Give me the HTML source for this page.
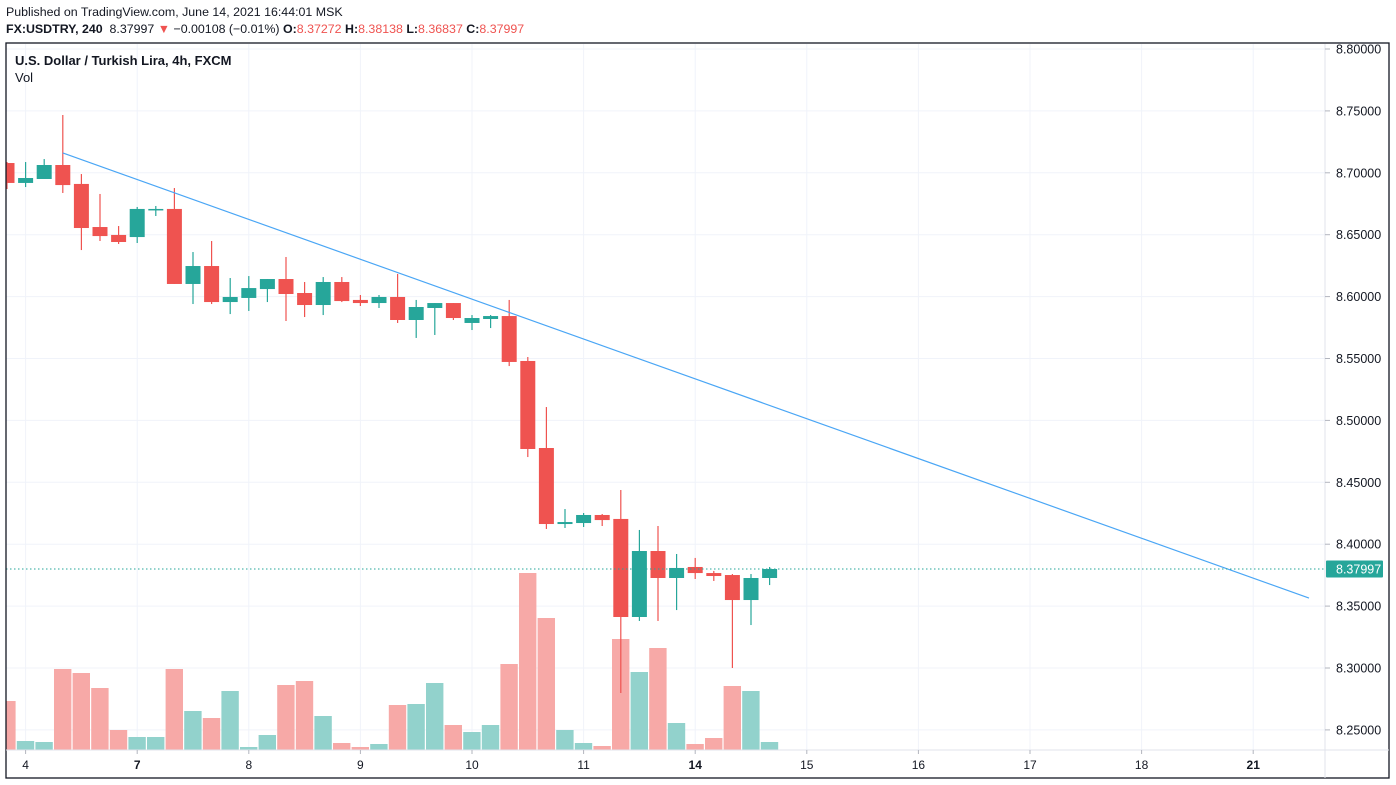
<!DOCTYPE html>
<html><head><meta charset="utf-8"><style>
body{margin:0;background:#fff;width:1396px;height:785px;overflow:hidden;font-family:"Liberation Sans",sans-serif}
#hdr1{position:absolute;left:6px;top:5px;font-size:12.4px;color:#131722}
#hdr2{position:absolute;left:6px;top:22px;font-size:12.4px;color:#131722}
.r{color:#ef5350}
</style></head><body>
<div id="hdr1">Published on TradingView.com, June 14, 2021 16:44:01 MSK</div>
<div id="hdr2"><b>FX:USDTRY, 240</b>&nbsp; 8.37997 <span class="r">▼</span> −0.00108 (−0.01%) <b>O:</b><span class="r">8.37272</span> <b>H:</b><span class="r">8.38138</span> <b>L:</b><span class="r">8.36837</span> <b>C:</b><span class="r">8.37997</span></div>
<svg id="chart" width="1396" height="785" style="position:absolute;left:0;top:0"></svg>
<script>
const opens=[8.7079,8.6918,8.6950,8.7063,8.6910,8.6562,8.6498,8.6481,8.6700,8.6708,8.6102,8.6247,8.5956,8.5989,8.6061,8.6142,8.6029,8.5932,8.6118,8.5973,8.5948,8.5997,8.5811,8.5908,8.5948,8.5787,8.5819,8.5843,8.5480,8.4777,8.4163,8.4171,8.4236,8.4204,8.3412,8.3945,8.3727,8.3816,8.3767,8.3751,8.3549,8.3727];
const highs=[8.7087,8.7087,8.7111,8.7467,8.6990,8.6829,8.6570,8.6724,8.6732,8.6877,8.6360,8.6449,8.6150,8.6166,8.6142,8.6320,8.6118,8.6158,8.6158,8.6013,8.6013,8.6183,8.5973,8.5948,8.5948,8.5851,8.5851,8.5973,8.5512,8.5108,8.4284,8.4252,8.4244,8.4438,8.4115,8.4147,8.3921,8.3889,8.3784,8.3759,8.3759,8.3816];
const lows=[8.6869,8.6885,8.6950,8.6837,8.6376,8.6449,8.6425,8.6433,8.6651,8.6102,8.5940,8.5940,8.5859,8.5884,8.5956,8.5803,8.5835,8.5851,8.5956,8.5924,8.5908,8.5787,8.5666,8.5690,8.5811,8.5730,8.5746,8.5439,8.4704,8.4123,8.4131,8.4139,8.4147,8.2798,8.3380,8.3380,8.3468,8.3719,8.3703,8.3000,8.3347,8.3670];
const closes=[8.6918,8.6958,8.7063,8.6901,8.6554,8.6489,8.6441,8.6708,8.6708,8.6102,8.6247,8.5956,8.5997,8.6069,8.6142,8.6021,8.5932,8.6118,8.5964,8.5948,8.5997,8.5811,8.5916,8.5948,8.5827,8.5827,8.5843,8.5472,8.4769,8.4163,8.4179,8.4236,8.4195,8.3412,8.3945,8.3727,8.3808,8.3767,8.3743,8.3549,8.3727,8.37997];
const volumes=[49,9,8,81,77,62,20,13,13,81,39,32,59,3,15,65,69,34,7,3,6,45,46,67,25,18,25,86,177,132,20,7,4,111,78,102,27,6,12,64,59,8];
const priceTicks=[8.25,8.30,8.35,8.40,8.45,8.50,8.55,8.60,8.65,8.70,8.75,8.80];
const dayLabels=["4","7","8","9","10","11","14","15","16","17","18","21"];
const dayIndex=[1,7,13,19,25,31,37,43,49,55,61,67];
const trendIdx=[3,70];
const trendPrice=[8.7160,8.3565];
const lastPrice=8.37997;

const svg=document.getElementById('chart');
const NS='http://www.w3.org/2000/svg';
const L=6,R=1325,T=44,B=750;
const xs=i=>7+18.6*i;
const ys=p=>49+(8.80-p)*1238;
const vmax=Math.max(...volumes);
const yv=v=>B-v/vmax*177;
function mk(tag,attrs,parent){const e=document.createElementNS(NS,tag);for(const k in attrs)e.setAttribute(k,attrs[k]);(parent||svg).appendChild(e);return e;}
const clip=mk('clipPath',{id:'pane'});mk('rect',{x:L,y:T,width:R-L,height:B-T},clip);
const g=mk('g',{'clip-path':'url(#pane)'});
priceTicks.forEach(p=>{const l=mk('line',{x1:L,x2:R,y1:ys(p),y2:ys(p),stroke:'#f0f3fa','stroke-width':1},g);});
dayIndex.forEach(i=>{const l=mk('line',{x1:xs(i),x2:xs(i),y1:T,y2:B,stroke:'#f0f3fa','stroke-width':1},g);});
volumes.forEach((v,i)=>{const up=closes[i]>=opens[i];const r=mk('rect',{x:xs(i)-8.8,y:yv(v),width:17.4,height:B-yv(v),fill:up?'#92d2cc':'#f7a9a7'},g);});
opens.forEach((o,i)=>{const c=closes[i];const up=c>=o;const col=up?'#26a69a':'#ef5350';
const w=mk('line',{x1:xs(i),x2:xs(i),y1:ys(highs[i]),y2:ys(lows[i]),stroke:col,'stroke-width':1.2},g);
const top=ys(Math.max(o,c)),bot=ys(Math.min(o,c));
const b=mk('rect',{x:xs(i)-7.5,y:top,width:15,height:Math.max(1.5,bot-top),fill:col},g);});
const tl=mk('line',{x1:xs(trendIdx[0]),y1:ys(trendPrice[0]),x2:xs(trendIdx[1]),y2:ys(trendPrice[1]),stroke:'#4aa6f5','stroke-width':1.2},g);
const pl=mk('line',{x1:L,x2:R,y1:ys(lastPrice),y2:ys(lastPrice),stroke:'#26a69a','stroke-width':1,'stroke-dasharray':'1.5,2.5'},g);
mk('rect',{x:L,y:T-1,width:1389-L,height:778-T+1,fill:'none',stroke:'#131722','stroke-width':1.3});
mk('line',{x1:R,x2:R,y1:T,y2:778,stroke:'#e0e3eb'});
mk('line',{x1:L,x2:1389,y1:B,y2:B,stroke:'#e0e3eb'});
priceTicks.forEach(p=>{mk('line',{x1:R,x2:R+5,y1:ys(p),y2:ys(p),stroke:'#b2b5be'});
const t=mk('text',{x:1336,y:ys(p)+4.5,'font-size':12.5,fill:'#131722','font-family':'Liberation Sans, sans-serif'});t.textContent=p.toFixed(5);});
dayLabels.forEach((d,k)=>{const x=xs(dayIndex[k]);mk('line',{x1:x,x2:x,y1:B,y2:B+4,stroke:'#b2b5be'});
const t=mk('text',{x:x,y:769,'font-size':12,fill:'#131722','text-anchor':'middle','font-weight':(d==='7'||d==='14'||d==='21')?'bold':'normal','font-family':'Liberation Sans, sans-serif'});t.textContent=d;});
const lb=mk('rect',{x:R+1,y:ys(lastPrice)-8.5,width:57,height:17,fill:'#26a69a',rx:1});
const lt=mk('text',{x:1336,y:ys(lastPrice)+4.5,'font-size':12.5,fill:'#fff','font-family':'Liberation Sans, sans-serif'});lt.textContent=lastPrice.toFixed(5);
const t1=mk('text',{x:15,y:65,'font-size':13,'font-weight':'bold',fill:'#131722','font-family':'Liberation Sans, sans-serif'});t1.textContent='U.S. Dollar / Turkish Lira, 4h, FXCM';
const t2=mk('text',{x:15,y:82,'font-size':13,fill:'#131722','font-family':'Liberation Sans, sans-serif'});t2.textContent='Vol';
</script>
</body></html>
